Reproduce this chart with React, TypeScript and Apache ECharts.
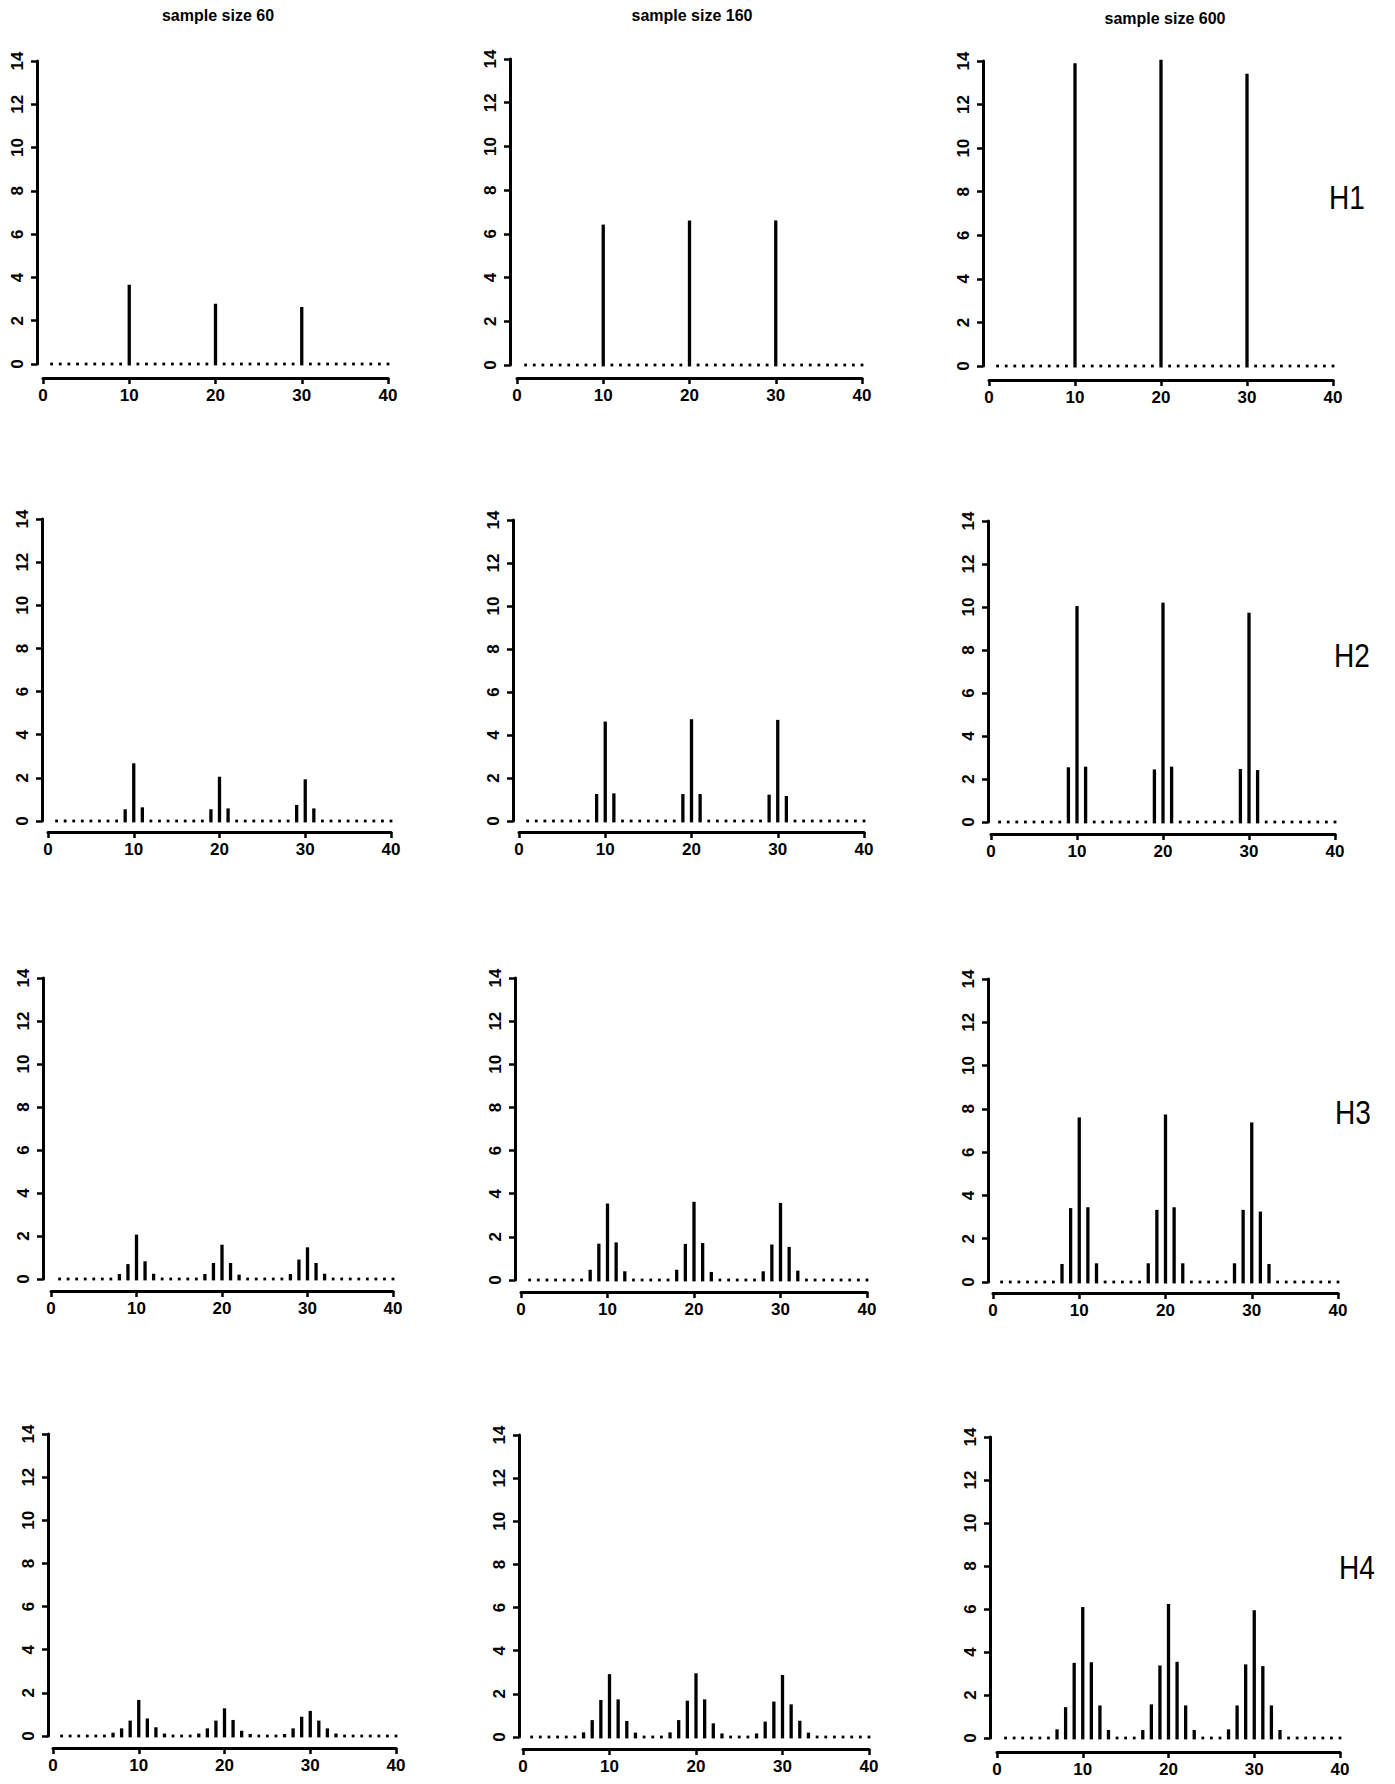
import React, { useEffect, useRef } from "react";
import * as echarts from "echarts";

// x positions of the spikes (1..40)
const xValues = [
  1, 2, 3, 4, 5, 6, 7, 8, 9, 10, 11, 12, 13, 14, 15, 16, 17, 18, 19, 20,
  21, 22, 23, 24, 25, 26, 27, 28, 29, 30, 31, 32, 33, 34, 35, 36, 37, 38, 39, 40,
];

const xTicks = [0, 10, 20, 30, 40];
const yTicks = [0, 2, 4, 6, 8, 10, 12, 14];

const columnTitles = ["sample size 60", "sample size 160", "sample size 600"];
const rowLabels = ["H1", "H2", "H3", "H4"];

// H1
const h1n60 = [0,0,0,0,0,0,0,0,0,3.65, 0,0,0,0,0,0,0,0,0,2.77, 0,0,0,0,0,0,0,0,0,2.62, 0,0,0,0,0,0,0,0,0,0];
const h1n160 = [0,0,0,0,0,0,0,0,0,6.41, 0,0,0,0,0,0,0,0,0,6.6, 0,0,0,0,0,0,0,0,0,6.6, 0,0,0,0,0,0,0,0,0,0];
const h1n600 = [0,0,0,0,0,0,0,0,0,13.88, 0,0,0,0,0,0,0,0,0,14.04, 0,0,0,0,0,0,0,0,0,13.4, 0,0,0,0,0,0,0,0,0,0];
// H2
const h2n60 = [0,0,0,0,0,0,0,0,0.53,2.66, 0.62,0,0,0,0,0,0,0,0.53,2.04, 0.57,0,0,0,0,0,0,0,0.73,1.92, 0.57,0,0,0,0,0,0,0,0,0];
const h2n160 = [0,0,0,0,0,0,0,0,1.24,4.61, 1.27,0,0,0,0,0,0,0,1.24,4.72, 1.24,0,0,0,0,0,0,0,1.21,4.69, 1.15,0,0,0,0,0,0,0,0,0];
const h2n600 = [0,0,0,0,0,0,0,0,2.53,10.03, 2.56,0,0,0,0,0,0,0,2.43,10.19, 2.56,0,0,0,0,0,0,0,2.45,9.72, 2.4,0,0,0,0,0,0,0,0,0];
// H3
const h3n60 = [0,0,0,0,0,0,0,0.22,0.68,2.05, 0.81,0.23,0,0,0,0,0,0.22,0.73,1.58, 0.73,0.19,0,0,0,0,0,0.22,0.89,1.46, 0.73,0.23,0,0,0,0,0,0,0,0];
const h3n160 = [0,0,0,0,0,0,0,0.46,1.67,3.53, 1.73,0.39,0,0,0,0,0,0.46,1.66,3.61, 1.7,0.36,0,0,0,0,0,0.39,1.63,3.56, 1.52,0.42,0,0,0,0,0,0,0,0];
const h3n600 = [0,0,0,0,0,0,0,0.82,3.4,7.59, 3.44,0.85,0,0,0,0,0,0.85,3.32,7.72, 3.44,0.85,0,0,0,0,0,0.85,3.32,7.36, 3.24,0.82,0,0,0,0,0,0,0,0];
// H4
const h4n60 = [0,0,0,0,0,0,0.14,0.34,0.7,1.66, 0.8,0.39,0.1,0,0,0,0.1,0.34,0.7,1.27, 0.73,0.23,0.08,0,0,0,0.08,0.34,0.88,1.15, 0.7,0.34,0.1,0,0,0,0,0,0,0];
const h4n160 = [0,0,0,0,0,0,0.2,0.77,1.7,2.9, 1.73,0.73,0.19,0,0,0,0.2,0.77,1.67,2.94, 1.73,0.62,0.15,0,0,0,0.15,0.7,1.63,2.86, 1.5,0.74,0.19,0,0,0,0,0,0,0];
const h4n600 = [0,0,0,0,0,0,0.39,1.42,3.48,6.08, 3.51,1.5,0.36,0,0,0,0.36,1.55,3.36,6.22, 3.53,1.5,0.36,0,0,0,0.39,1.5,3.41,5.93, 3.33,1.5,0.36,0,0,0,0,0,0,0];

const panelData = [
  [h1n60, h1n160, h1n600],
  [h2n60, h2n160, h2n600],
  [h3n60, h3n160, h3n600],
  [h4n60, h4n160, h4n600],
];

// layout (pixels): [yAxisX, y14, y0, xAxisY, x0, x40]
const panelLayout = [
  [[37, 61, 364, 378, 43, 388], [510, 59, 365, 378, 517, 862], [983, 61, 366, 380, 989, 1333]],
  [[42, 519, 821, 832, 48, 391], [513, 520, 821, 832, 519, 864], [988, 521, 822, 834, 991, 1335]],
  [[43, 978, 1279, 1291, 51, 393], [515, 978, 1280, 1292, 521, 867], [988, 979, 1282, 1293, 993, 1338]],
  [[48, 1434, 1736, 1748, 53, 396], [519, 1435, 1737, 1749, 523, 869], [990, 1437, 1738, 1752, 997, 1340]],
];
const titlePos = [[218, 15], [692, 15], [1165, 18]];
const rowLabelPos = [[1347, 197], [1352, 655], [1353, 1112], [1357, 1567]];

const FONT = "'Liberation Sans', Arial, Helvetica, sans-serif";

function buildOption() {
  const grid: any[] = [];
  const xAxis: any[] = [];
  const yAxis: any[] = [];
  const series: any[] = [];
  let idx = 0;
  for (let r = 0; r < 4; r++) {
    for (let c = 0; c < 3; c++) {
      const [yAxisX, y14, y0, xAxisY, x0, x40] = panelLayout[r][c];
      grid.push({ left: x0, top: y14, width: x40 - x0, height: y0 - y14 });
      xAxis.push({
        type: "value",
        gridIndex: idx,
        min: xTicks[0],
        max: xTicks[xTicks.length - 1],
        interval: 10,
        position: "bottom",
        offset: xAxisY - y0,
        splitLine: { show: false },
        axisLine: { show: true, onZero: false, lineStyle: { color: "#000", width: 3 } },
        axisTick: { show: true, length: 6, lineStyle: { color: "#000", width: 2.5 } },
        axisLabel: {
          color: "#000",
          fontFamily: FONT,
          fontWeight: "bold",
          fontSize: 17,
          margin: 9,
          showMinLabel: true,
          showMaxLabel: true,
        },
      });
      yAxis.push({
        type: "value",
        gridIndex: idx,
        min: yTicks[0],
        max: yTicks[yTicks.length - 1],
        interval: 2,
        position: "left",
        offset: x0 - yAxisX,
        splitLine: { show: false },
        axisLine: { show: true, onZero: false, lineStyle: { color: "#000", width: 3 } },
        axisTick: { show: true, length: 6, lineStyle: { color: "#000", width: 2.5 } },
        axisLabel: {
          color: "#000",
          fontFamily: FONT,
          fontWeight: "bold",
          fontSize: 17,
          rotate: 90,
          margin: 11,
          showMinLabel: true,
          showMaxLabel: true,
        },
      });
      const vals = panelData[r][c];
      series.push({
        type: "custom",
        xAxisIndex: idx,
        yAxisIndex: idx,
        clip: false,
        encode: { x: 0, y: 1 },
        data: xValues.map((x, i) => [x, vals[i]]),
        renderItem: (params: any, api: any) => {
          const x = api.value(0);
          const v = api.value(1);
          const base = api.coord([x, 0]);
          const top = api.coord([x, v]);
          if (v < 0.05) {
            const s = 2.8;
            return {
              type: "rect",
              shape: { x: base[0] - s / 2, y: base[1] - s / 2, width: s, height: s },
              style: { fill: "#000" },
            };
          }
          const w = 3.3;
          const topY = Math.min(top[1], base[1] - 1.4) - 0.3;
          const botY = base[1] + 1.4;
          return {
            type: "rect",
            shape: { x: base[0] - w / 2, y: topY, width: w, height: botY - topY },
            style: { fill: "#000" },
          };
        },
      });
      idx++;
    }
  }

  const graphic: any[] = [];
  columnTitles.forEach((t, c) => {
    graphic.push({
      type: "text",
      x: titlePos[c][0],
      y: titlePos[c][1],
      style: {
        text: t,
        fill: "#000",
        font: `bold 16px ${FONT}`,
        textAlign: "center",
        textVerticalAlign: "middle",
        align: "center",
        verticalAlign: "middle",
      },
    });
  });
  rowLabels.forEach((t, r) => {
    graphic.push({
      type: "text",
      x: rowLabelPos[r][0],
      y: rowLabelPos[r][1],
      scaleX: 0.85,
      style: {
        text: t,
        fill: "#000",
        font: `normal 33px ${FONT}`,
        textAlign: "center",
        textVerticalAlign: "middle",
        align: "center",
        verticalAlign: "middle",
      },
    });
  });

  return {
    animation: false,
    backgroundColor: "#fff",
    grid,
    xAxis,
    yAxis,
    series,
    graphic,
  };
}

export default function App() {
  const ref = useRef<HTMLDivElement>(null);
  useEffect(() => {
    if (!ref.current) return;
    const chart = echarts.init(ref.current, undefined, { renderer: "svg" });
    chart.setOption(buildOption() as any);
    return () => chart.dispose();
  }, []);
  return (
    <div
      ref={ref}
      style={{ position: "absolute", left: 0, top: 0, width: 1395, height: 1784, background: "#fff" }}
    />
  );
}
